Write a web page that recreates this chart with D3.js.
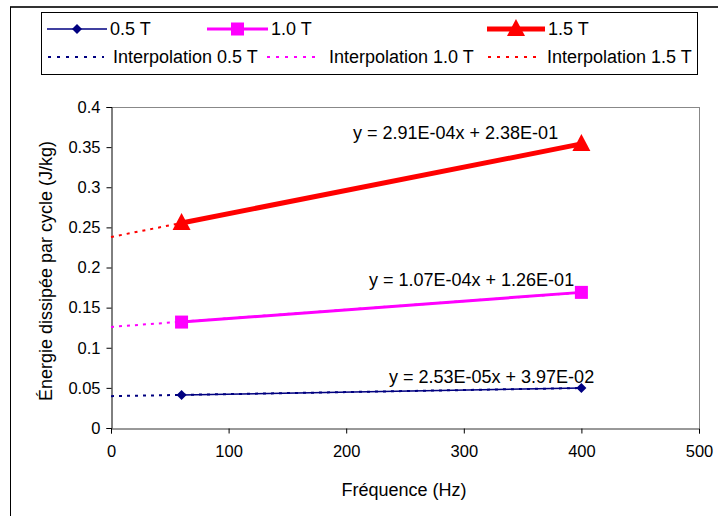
<!DOCTYPE html>
<html><head><meta charset="utf-8">
<script src="https://cdn.jsdelivr.net/npm/d3@7"></script>
<style>body{margin:0;background:#fff}text{font-family:"Liberation Sans",Arial,sans-serif}</style>
</head><body>
<svg id="c" width="718" height="516"></svg>
<script>
const frequencies = [60, 400];
const seriesNames = ["0.5 T", "1.0 T", "1.5 T"];
const energy05 = [0.0412, 0.0498];
const energy10 = [0.132, 0.169];
const energy15 = [0.2555, 0.354];
const trendSlopes = [2.53e-5, 1.07e-4, 2.91e-4];
const trendIntercepts = [3.97e-2, 1.26e-1, 2.38e-1];
const trendLabels = ["y = 2.53E-05x + 3.97E-02", "y = 1.07E-04x + 1.26E-01", "y = 2.91E-04x + 2.38E-01"];
const xTicks = [0, 100, 200, 300, 400, 500];
const yTicks = [0, 0.05, 0.1, 0.15, 0.2, 0.25, 0.3, 0.35, 0.4];

const colors = ["#000080", "#FF00FF", "#FF0000"];
const widths = [1.5, 3, 5];
const series = [energy05, energy10, energy15];

const svg = d3.select("#c");
// outer frame
svg.append("line").attr("x1",10).attr("y1",7).attr("x2",718).attr("y2",7).attr("stroke","#333").attr("stroke-width",2);
svg.append("line").attr("x1",10.5).attr("y1",7).attr("x2",10.5).attr("y2",516).attr("stroke","#000").attr("stroke-width",1);

const x = d3.scaleLinear().domain([0,500]).range([111,699]);
const y = d3.scaleLinear().domain([0,0.4]).range([428,107]);

// plot border
svg.append("line").attr("x1",111).attr("y1",107.5).attr("x2",699.5).attr("y2",107.5).attr("stroke","#888");
svg.append("line").attr("x1",699.5).attr("y1",107).attr("x2",699.5).attr("y2",428).attr("stroke","#888");

const yAxis = svg.append("g").attr("transform","translate(111.5,0)")
  .call(d3.axisLeft(y).tickValues(yTicks).tickSize(5).tickPadding(6).tickFormat(d=>String(+d.toFixed(2))));
const xAxis = svg.append("g").attr("transform","translate(0,428.5)")
  .call(d3.axisBottom(x).tickValues(xTicks).tickSize(5).tickPadding(12).tickFormat(d=>d));
[yAxis,xAxis].forEach(g=>{
  g.selectAll("path,line").attr("stroke","#000");
  g.selectAll("text").style("font-size","16.5px").attr("fill","#000");
});
xAxis.select("path").attr("stroke","#333");

svg.append("text").attr("x",404).attr("y",496).attr("text-anchor","middle").style("font-size","18px").text("Fréquence (Hz)");
svg.append("text").attr("transform","translate(52,271) rotate(-90)").attr("text-anchor","middle").style("font-size","18px").text("Énergie dissipée par cycle (J/kg)");

// trendlines (dotted, from 0 to 400)
const line = d3.line().x(d=>x(d[0])).y(d=>y(d[1]));
series.forEach((s,i)=>{
  const pts = [0, frequencies[frequencies.length-1]].map(f=>[f, trendIntercepts[i]+trendSlopes[i]*f]);
  svg.append("path").attr("d",line(pts)).attr("fill","none").attr("stroke",colors[i]).attr("stroke-width",2).attr("stroke-dasharray","3,5");
});

// series lines
series.forEach((s,i)=>{
  svg.append("path").attr("d",line(frequencies.map((f,j)=>[f,s[j]]))).attr("fill","none").attr("stroke",colors[i]).attr("stroke-width",widths[i]);
});

function marker(g,i,cx,cy){
  if(i===0) g.append("path").attr("d",`M${cx},${cy-5}L${cx+5},${cy}L${cx},${cy+5}L${cx-5},${cy}Z`).attr("fill",colors[0]);
  else if(i===1) g.append("rect").attr("x",cx-6.5).attr("y",cy-6.5).attr("width",13).attr("height",13).attr("fill",colors[1]);
  else g.append("path").attr("d",`M${cx},${cy-10}L${cx+9},${cy+7}L${cx-9},${cy+7}Z`).attr("fill",colors[2]);
}
series.forEach((s,i)=>{
  frequencies.forEach((f,j)=>marker(svg,i,x(f),y(s[j])));
});

// trend labels
const labelPos = [[389,383],[369,286],[353,139]];
trendLabels.forEach((t,i)=>{
  svg.append("text").attr("x",labelPos[i][0]).attr("y",labelPos[i][1]).style("font-size","18px").text(t);
});

// legend
svg.append("rect").attr("x",41.5).attr("y",12.5).attr("width",656).attr("height",62).attr("fill","#fff").attr("stroke","#000");
const legX1 = [[47,107],[207,268],[487,545]];
legX1.forEach((p,i)=>{
  const yy=29;
  svg.append("line").attr("x1",p[0]).attr("x2",p[1]).attr("y1",yy).attr("y2",yy).attr("stroke",colors[i]).attr("stroke-width",widths[i]);
  marker(svg,i,(p[0]+p[1])/2,yy);
  svg.append("text").attr("x",p[1]+3).attr("y",yy+6).style("font-size","18px").text(seriesNames[i]);
});
const legX2 = [[48,104],[267,320],[488,538]];
legX2.forEach((p,i)=>{
  const yy=57;
  svg.append("line").attr("x1",p[0]).attr("x2",p[1]).attr("y1",yy).attr("y2",yy).attr("stroke",colors[i]).attr("stroke-width",2).attr("stroke-dasharray","3,6");
  svg.append("text").attr("x",p[1]+9).attr("y",yy+6).style("font-size","18px").text("Interpolation "+seriesNames[i]);
});
</script>
</body></html>
